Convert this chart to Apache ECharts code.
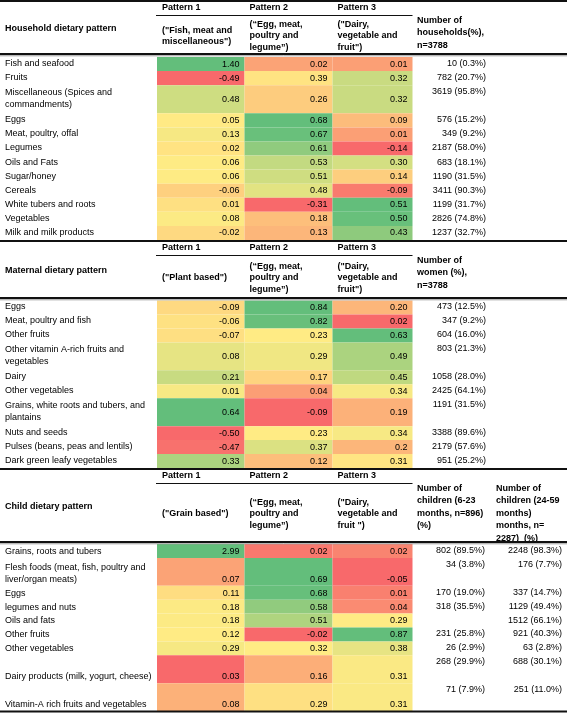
<!DOCTYPE html>
<html><head><meta charset="utf-8">
<script src="https://cdn.jsdelivr.net/npm/echarts@6/dist/echarts.min.js"></script>
<style>html,body{margin:0;padding:0;background:#fff}#c{width:567px;height:713px}</style>
</head><body><div id="c"></div>
<script>
// ================= DATA =================
const patternNames = ['Pattern 1', 'Pattern 2', 'Pattern 3'];

const householdTitle = 'Household dietary pattern';
const householdPatternDesc = ['("Fish, meat and\nmiscellaneous")', '(\u201cEgg, meat,\npoultry and\nlegume\u201d)', '("Dairy,\nvegetable and\nfruit")'];
const householdCountHeader = 'Number of\nhouseholds(%),\nn=3788';
const householdFoods = ['Fish and seafood', 'Fruits', 'Miscellaneous (Spices and\ncommandments)', 'Eggs', 'Meat, poultry, offal', 'Legumes', 'Oils and Fats', 'Sugar/honey', 'Cereals', 'White tubers and roots', 'Vegetables', 'Milk and milk products'];
const householdP1 = ['1.40', '-0.49', '0.48', '0.05', '0.13', '0.02', '0.06', '0.06', '-0.06', '0.01', '0.08', '-0.02'];
const householdP2 = ['0.02', '0.39', '0.26', '0.68', '0.67', '0.61', '0.53', '0.51', '0.48', '-0.31', '0.18', '0.13'];
const householdP3 = ['0.01', '0.32', '0.32', '0.09', '0.01', '-0.14', '0.30', '0.14', '-0.09', '0.51', '0.50', '0.43'];
const householdCounts = ['10 (0.3%)', '782 (20.7%)', '3619 (95.8%)', '576 (15.2%)', '349 (9.2%)', '2187 (58.0%)', '683 (18.1%)', '1190 (31.5%)', '3411 (90.3%)', '1199 (31.7%)', '2826 (74.8%)', '1237 (32.7%)'];

const maternalTitle = 'Maternal dietary pattern';
const maternalPatternDesc = ['("Plant based")', '(\u201cEgg, meat,\npoultry and\nlegume\u201d)', '("Dairy,\nvegetable and\nfruit")'];
const maternalCountHeader = 'Number of\nwomen (%),\nn=3788';
const maternalFoods = ['Eggs', 'Meat, poultry and fish', 'Other fruits', 'Other vitamin A-rich fruits and\nvegetables', 'Dairy', 'Other vegetables', 'Grains, white roots and tubers, and\nplantains', 'Nuts and seeds', 'Pulses (beans, peas and lentils)', 'Dark green leafy vegetables'];
const maternalP1 = ['-0.09', '-0.06', '-0.07', '0.08', '0.21', '0.01', '0.64', '-0.50', '-0.47', '0.33'];
const maternalP2 = ['0.84', '0.82', '0.23', '0.29', '0.17', '0.04', '-0.09', '0.23', '0.37', '0.12'];
const maternalP3 = ['0.20', '0.02', '0.63', '0.49', '0.45', '0.34', '0.19', '0.34', '0.2', '0.31'];
const maternalCounts = ['473 (12.5%)', '347 (9.2%)', '604 (16.0%)', '803 (21.3%)', '1058 (28.0%)', '2425 (64.1%)', '1191 (31.5%)', '3388 (89.6%)', '2179 (57.6%)', '951 (25.2%)'];

const childTitle = 'Child dietary pattern';
const childPatternDesc = ['("Grain based")', '(\u201cEgg, meat,\npoultry and\nlegume\u201d)', '("Dairy,\nvegetable and\nfruit ")'];
const childCountHeader623 = 'Number of\nchildren (6-23\nmonths, n=896)\n(%)';
const childCountHeader2459 = 'Number of\nchildren (24-59\nmonths)\nmonths, n=\n2287)  (%)';
const childFoods = ['Grains, roots and tubers', 'Flesh foods (meat, fish, poultry and\nliver/organ meats)', 'Eggs', 'legumes and nuts', 'Oils and fats', 'Other fruits', 'Other vegetables', 'Dairy products (milk, yogurt, cheese)', 'Vitamin-A rich fruits and vegetables'];
const childP1 = ['2.99', '0.07', '0.11', '0.18', '0.18', '0.12', '0.29', '0.03', '0.08'];
const childP2 = ['0.02', '0.69', '0.68', '0.58', '0.51', '-0.02', '0.32', '0.16', '0.29'];
const childP3 = ['0.02', '-0.05', '0.01', '0.04', '0.29', '0.87', '0.38', '0.31', '0.31'];
const childCounts623 = ['802 (89.5%)', '34 (3.8%)', '170 (19.0%)', '318 (35.5%)', '', '231 (25.8%)', '26 (2.9%)', '268 (29.9%)', '71 (7.9%)'];
const childCounts2459 = ['2248 (98.3%)', '176 (7.7%)', '337 (14.7%)', '1129 (49.4%)', '1512 (66.1%)', '921 (40.3%)', '63 (2.8%)', '688 (30.1%)', '251 (11.0%)'];

// ================= LAYOUT / STYLE =================
const householdRowSpan = [1, 1, 2, 1, 1, 1, 1, 1, 1, 1, 1, 1];
const maternalRowSpan = [1, 1, 1, 2, 1, 1, 2, 1, 1, 1];
const childRowSpan = [1, 2, 1, 1, 1, 1, 1, 2, 2];
const W = 567, H = 713;
const colX = [157, 244.5, 332.5, 412.5];
const FONT = '"Liberation Sans", Arial, Helvetica, sans-serif';
const FS = 9;
const RED = [0xF8, 0x69, 0x6B], YELLOW = [0xFF, 0xEB, 0x84], GREEN = [0x63, 0xBE, 0x7B];

const sections = [
  { title: householdTitle, desc: householdPatternDesc, countHeads: [[householdCountHeader, 417]], foods: householdFoods,
    vals: [householdP1, householdP2, householdP3], counts: [[householdCounts, 486]], span: householdRowSpan,
    top: 1, headBottom: 54, rowsTop: 57, rowsBottom: 240, bottomAlign: false },
  { title: maternalTitle, desc: maternalPatternDesc, countHeads: [[maternalCountHeader, 417]], foods: maternalFoods,
    vals: [maternalP1, maternalP2, maternalP3], counts: [[maternalCounts, 486]], span: maternalRowSpan,
    top: 241, headBottom: 298, rowsTop: 300.5, rowsBottom: 468, bottomAlign: false },
  { title: childTitle, desc: childPatternDesc, countHeads: [[childCountHeader623, 417], [childCountHeader2459, 496]], foods: childFoods,
    vals: [childP1, childP2, childP3], counts: [[childCounts623, 485], [childCounts2459, 562]], span: childRowSpan,
    top: 469, headBottom: 542, rowsTop: 544, rowsBottom: 711, bottomAlign: true }
];

function median(a) { const s = [...a].sort((x, y) => x - y); const n = s.length; return n % 2 ? s[(n - 1) / 2] : (s[n / 2 - 1] + s[n / 2]) / 2; }
function scaleColor(arr) {
  const nums = arr.map(Number);
  const mn = Math.min(...nums), mx = Math.max(...nums), md = median(nums);
  return v => {
    let c0, c1, t;
    if (v <= md) { c0 = RED; c1 = YELLOW; t = md === mn ? 1 : (v - mn) / (md - mn); }
    else { c0 = YELLOW; c1 = GREEN; t = (v - md) / (mx - md); }
    return 'rgb(' + c0.map((c, i) => Math.round(c + (c1[i] - c) * t)).join(',') + ')';
  };
}
function txt(text, x, y, opts) {
  return Object.assign({ text, x, y, fill: '#000', fontFamily: FONT, fontSize: FS, fontWeight: 'normal', align: 'left', verticalAlign: 'middle', lineHeight: 12 }, opts || {});
}

function makeSeries(sec) {
  const units = sec.span.reduce((a, b) => a + b, 0);
  const unit = (sec.rowsBottom - sec.rowsTop) / units;
  const starts = []; let acc = 0; sec.span.forEach(u => { starts.push(acc); acc += u; });
  const colorFns = sec.vals.map(scaleColor);
  const data = [];
  sec.vals.forEach((col, c) => col.forEach((v, r) => data.push([c, r, Number(v)])));
  return {
    type: 'custom', coordinateSystem: 'cartesian2d', clip: false, silent: true, data,
    encode: { x: 0, y: 1 },
    renderItem(params, api) {
      const c = api.value(0), r = api.value(1), v = api.value(2);
      const y0 = sec.rowsTop + starts[r] * unit, y1 = y0 + sec.span[r] * unit;
      const p0 = api.coord([colX[c], y0]), p1 = api.coord([colX[c + 1], y1]);
      const ch = [{ type: 'rect', shape: { x: p0[0], y: p0[1], width: p1[0] - p0[0], height: p1[1] - p0[1] }, style: { fill: colorFns[c](v) } }];
      const valY = sec.bottomAlign ? p1[1] - 6.5 : (p0[1] + p1[1]) / 2;
      ch.push({ type: 'text', style: txt(sec.vals[c][r], p1[0] - 5, valY, { align: 'right' }) });
      if (c === 0) {
        const lp = api.coord([5, 0])[0];
        if (sec.bottomAlign) ch.push({ type: 'text', style: txt(sec.foods[r], lp, p1[1] - 0.5, { verticalAlign: 'bottom' }) });
        else ch.push({ type: 'text', style: txt(sec.foods[r], lp, (p0[1] + p1[1]) / 2 - 0.5) });
      }
      if (c === 2) {
        sec.counts.forEach(([arr, xr]) => {
          const px = api.coord([xr, 0])[0];
          ch.push({ type: 'text', style: txt(arr[r], px, p0[1] + 6.5, { align: 'right' }) });
        });
      }
      return { type: 'group', children: ch };
    }
  };
}

function headerGraphics(sec) {
  const g = [];
  const T = sec.top, B = sec.headBottom;
  const bold = { fontWeight: 'bold' };
  // top rule
  g.push({ type: 'line', shape: { x1: 0, y1: T, x2: W, y2: T }, style: { stroke: '#111', lineWidth: 2 } });
  // pattern names + underline
  patternNames.forEach((p, i) => g.push({ type: 'text', style: txt(p, colX[i] + 5, T + 7, bold) }));
  g.push({ type: 'line', shape: { x1: 156, y1: T + 14.5, x2: colX[3], y2: T + 14.5 }, style: { stroke: '#111', lineWidth: 1 } });
  // section title
  g.push({ type: 'text', style: txt(sec.title, 5, (T + B) / 2 + 1, bold) });
  // descriptions
  sec.desc.forEach((d, i) => g.push({ type: 'text', style: txt(d, colX[i] + 5, (T + 15 + B) / 2 + 1, Object.assign({ lineHeight: 11.6 }, bold)) }));
  // count headers
  sec.countHeads.forEach(([t, x]) => g.push({ type: 'text', style: txt(t, x, T + 13, Object.assign({ verticalAlign: 'top', lineHeight: 12.5 }, bold)) }));
  // header bottom double rule
  g.push({ type: 'line', shape: { x1: 0, y1: B, x2: W, y2: B }, style: { stroke: '#111', lineWidth: 2 } });
  g.push({ type: 'line', shape: { x1: 0, y1: B + 1.8, x2: W, y2: B + 1.8 }, style: { stroke: '#999', lineWidth: 1 } });
  return g;
}

const graphics = [];
sections.forEach(s => graphics.push(...headerGraphics(s)));
graphics.push({ type: 'line', shape: { x1: 0, y1: 711.5, x2: W, y2: 711.5 }, style: { stroke: '#111', lineWidth: 2 } });
graphics.forEach(g => { g.silent = true; g.z = 10; });

const chart = echarts.init(document.getElementById('c'), null, { renderer: 'canvas' });
chart.setOption({
  animation: false,
  backgroundColor: '#fff',
  grid: { left: 0, right: 0, top: 0, bottom: 0 },
  xAxis: { type: 'value', min: 0, max: W, show: false },
  yAxis: { type: 'value', min: 0, max: H, inverse: true, show: false },
  series: sections.map(makeSeries),
  graphic: { elements: graphics }
});
</script>
</body></html>
